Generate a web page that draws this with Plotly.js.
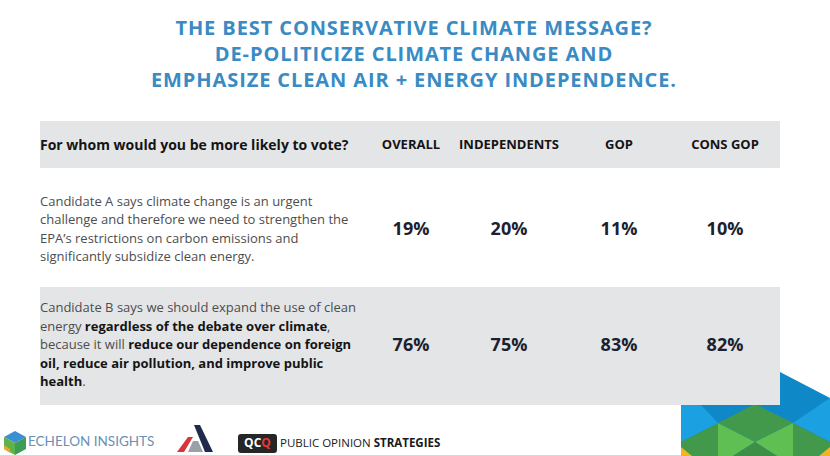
<!DOCTYPE html>
<html>
<head>
<meta charset="utf-8">
<script src="https://cdn.plot.ly/plotly-3.0.1.min.js"></script>
<style>
  html, body { margin: 0; padding: 0; background: #ffffff; }
  #chart { width: 830px; height: 456px; }
</style>
</head>
<body>
<div id="chart"></div>
<script>
// ---------------- DATA ----------------
const titleLines = [
  "THE BEST CONSERVATIVE CLIMATE MESSAGE?",
  "DE-POLITICIZE CLIMATE CHANGE AND",
  "EMPHASIZE CLEAN AIR + ENERGY INDEPENDENCE."
];
const question = "For whom would you be more likely to vote?";
const groups = ["OVERALL", "INDEPENDENTS", "GOP", "CONS GOP"];
const candidateAValues = [19, 20, 11, 10];
const candidateBValues = [76, 75, 83, 82];
const candidateALines = [
  "Candidate A says climate change is an urgent",
  "challenge and therefore we need to strengthen the",
  "EPA’s restrictions on carbon emissions and",
  "significantly subsidize clean energy."
];
const candidateBLines = [
  "Candidate B says we should expand the use of clean",
  "energy <b>regardless of the debate over climate</b>,",
  "because it will <b>reduce our dependence on foreign</b>",
  "<b>oil, reduce air pollution, and improve public</b>",
  "<b>health</b>."
];
const footerNames = ["ECHELON INSIGHTS", "PUBLIC OPINION", "STRATEGIES", "QCQ"];

// ---------------- LAYOUT (pixel positions) ----------------
const W = 830, H = 456;
const colX = [411, 509, 619, 725];
const leftX = 40;
const headerY = 146;
const rowY = [230, 346];
const lineGap = 18.5;
const titleX = 414;
const titleCenterY = 53.5;
const bandX = [40, 780];
const headerBand = [121, 168];
const rowBBand = [287, 405];

const titleColor = "#3a8bc3";
const bandColor = "#e4e5e7";
const bodyGray = "#4d4d4d";
const boldBlack = "#141414";
const numColor = "#1c2130";
const FONT = "Open Sans, Noto Sans, sans-serif";

function styleBold(s) {
  return s.replace(/<b>(.*?)<\/b>/g, '<b><span style="color:' + boldBlack + '">$1</span></b>');
}
function linesY(center, n) {
  const out = [];
  for (let i = 0; i < n; i++) out.push(center + (i - (n - 1) / 2) * lineGap);
  return out;
}

const traces = [];

// Header: question
traces.push({
  type: "scatter", mode: "text", x: [leftX], y: [headerY],
  text: ["<b>" + question + "</b>"], textposition: "middle right",
  textfont: { family: FONT, size: 14, color: boldBlack },
  hoverinfo: "skip", showlegend: false, cliponaxis: false
});
// Header: groups
traces.push({
  type: "scatter", mode: "text", x: colX, y: groups.map(() => headerY),
  text: groups.map(g => "<b>" + g + "</b>"), textposition: "middle center",
  textfont: { family: FONT, size: 13, color: boldBlack },
  hoverinfo: "skip", showlegend: false, cliponaxis: false
});
// Candidate descriptions
[[candidateALines, rowY[0]], [candidateBLines, rowY[1]]].forEach(([lines, cy]) => {
  traces.push({
    type: "scatter", mode: "text", x: lines.map(() => leftX), y: linesY(cy, lines.length),
    text: lines.map(styleBold), textposition: "middle right",
    textfont: { family: FONT, size: 13, color: bodyGray },
    hoverinfo: "skip", showlegend: false, cliponaxis: false
  });
});
// Values
[[candidateAValues, rowY[0]], [candidateBValues, rowY[1]]].forEach(([vals, cy]) => {
  traces.push({
    type: "scatter", mode: "text", x: colX, y: vals.map(() => cy),
    text: vals.map(v => "<b>" + v + "%</b>"), textposition: "middle center",
    textfont: { family: FONT, size: 18, color: numColor },
    hoverinfo: "skip", showlegend: false, cliponaxis: false
  });
});
// Footer texts
traces.push({
  type: "scatter", mode: "text", x: [28], y: [443],
  text: [footerNames[0]], textposition: "middle right",
  textfont: { family: "Lato, Open Sans, sans-serif", size: 13.5, color: "#6a90b3" },
  hoverinfo: "skip", showlegend: false, cliponaxis: false
});
traces.push({
  type: "scatter", mode: "text", x: [280], y: [444],
  text: [footerNames[1] + " <b>" + footerNames[2] + "</b>"], textposition: "middle right",
  textfont: { family: FONT, size: 11.5, color: "#1a1a1a" },
  hoverinfo: "skip", showlegend: false, cliponaxis: false
});
traces.push({
  type: "scatter", mode: "text", x: [257.5], y: [443.5],
  text: ['<b>QC<span style="color:#e03a3a">Q</span></b>'], textposition: "middle center",
  textfont: { family: FONT, size: 12, color: "#ffffff" },
  hoverinfo: "skip", showlegend: false, cliponaxis: false
});

// ---------------- SHAPES ----------------
function rect(x0, x1, y0, y1, fill) {
  return { type: "rect", xref: "x", yref: "y", x0, x1, y0, y1, fillcolor: fill, line: { width: 0 }, layer: "below" };
}
function poly(pts, fill, layer) {
  return {
    type: "path", xref: "x", yref: "y", layer: layer || "below",
    path: "M" + pts.map(p => p[0] + "," + p[1]).join(" L") + " Z",
    fillcolor: fill, line: { width: 0 }
  };
}
const shapes = [];
// Decorative corner pattern
shapes.push(poly([[681, 404], [780, 404], [780, 372], [830, 398], [830, 456], [681, 456]], "#0f88c8"));
shapes.push(poly([[681, 404], [700, 404], [718, 423], [681, 442]], "#1ba1e2"));
shapes.push(poly([[830, 398], [830, 442], [793, 423]], "#1ba1e2"));
shapes.push(poly([[718, 423], [755, 404], [793, 423], [755, 442]], "#43994b"));
shapes.push(poly([[681, 442], [718, 423], [718, 456], [681, 456]], "#43994b"));
shapes.push(poly([[793, 423], [830, 442], [830, 456], [793, 456]], "#43994b"));
shapes.push(poly([[718, 423], [755, 442], [733, 456], [718, 456]], "#5fbf52"));
shapes.push(poly([[793, 423], [793, 456], [777, 456], [755, 442]], "#5fbf52"));
shapes.push(poly([[755, 442], [777, 456], [733, 456]], "#3d8f45"));
shapes.push(poly([[681, 447], [692, 456], [681, 456]], "#f2b324"));
shapes.push(poly([[830, 447], [819, 456], [830, 456]], "#f2b324"));
// Table bands
shapes.push(rect(bandX[0], bandX[1], headerBand[0], headerBand[1], bandColor));
shapes.push(rect(bandX[0], bandX[1], rowBBand[0], rowBBand[1], bandColor));
// Echelon hexagon logo
shapes.push(poly([[15, 431], [26, 437], [15, 443], [4, 437]], "#3b8fd4"));
shapes.push(poly([[4, 437], [15, 443], [15, 455], [4, 449]], "#5db34a"));
shapes.push(poly([[26, 437], [26, 449], [15, 455], [15, 443]], "#3d9c56"));
shapes.push(poly([[4, 445], [10, 449], [10, 453], [4, 449]], "#f0a234"));
// Triangle "A" logo
shapes.push(poly([[194, 425], [200, 425], [213, 452], [205, 452]], "#1f2b4d"));
shapes.push(poly([[188, 437], [193, 437], [184, 452], [177, 452]], "#d8343b"));
shapes.push(poly([[193, 441], [198, 441], [203, 452], [188, 452]], "#9aa0a8"));
// POS box
shapes.push({ type: "path", xref: "x", yref: "y", layer: "below",
  path: "M241,434 L274,434 Q277,434 277,437 L277,450 Q277,453 274,453 L241,453 Q238,453 238,450 L238,437 Q238,434 241,434 Z",
  fillcolor: "#262626", line: { width: 0 } });
// bottom faint line
shapes.push({ type: "line", xref: "x", yref: "y", x0: 0, x1: 681, y0: 455.5, y1: 455.5, line: { color: "#d8d8d8", width: 1 }, layer: "below" });

const layout = {
  width: W, height: H,
  margin: { l: 0, r: 0, t: 0, b: 0 },
  paper_bgcolor: "#ffffff", plot_bgcolor: "#ffffff",
  xaxis: { range: [0, W], visible: false, fixedrange: true },
  yaxis: { range: [H, 0], visible: false, fixedrange: true },
  showlegend: false,
  shapes: shapes,
  annotations: [{
    xref: "x", yref: "y", x: titleX, y: titleCenterY,
    xanchor: "center", yanchor: "middle", align: "center", showarrow: false,
    text: titleLines.map(t => '<span style="letter-spacing:0.9px">' + t + '</span>').join("<br>"),
    font: { family: FONT, size: 20, color: titleColor, weight: 700 }
  }]
};

Plotly.newPlot("chart", traces, layout, { displayModeBar: false, staticPlot: true });
</script>
</body>
</html>
